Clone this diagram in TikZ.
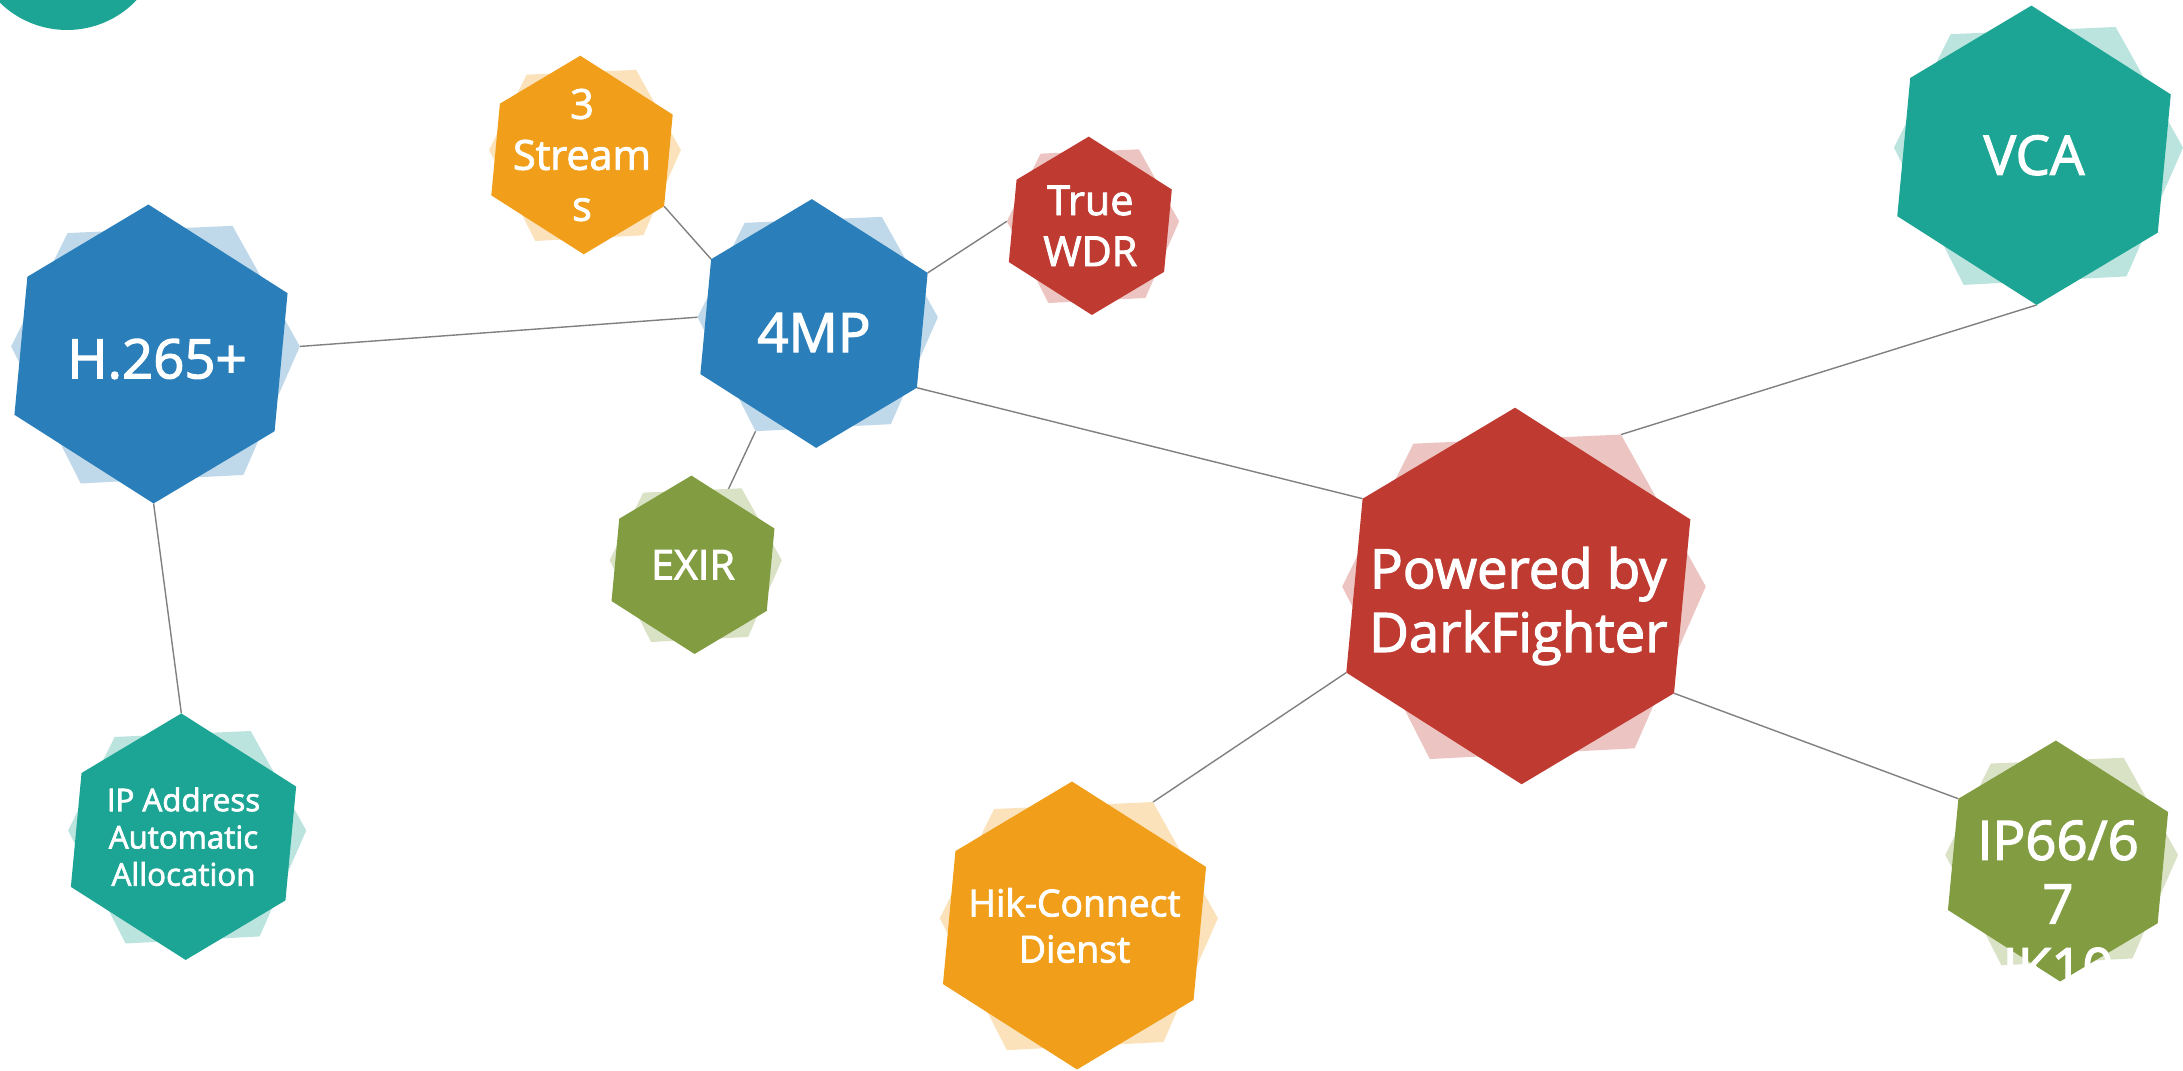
\documentclass[tikz,border=0pt]{standalone}
\usepackage{fontspec}
\setmainfont{Open Sans}[FakeBold=2.2]
\usepackage{xcolor}
\usepackage{tikz}
\usetikzlibrary{positioning}

\definecolor{hexblue}{HTML}{2A7FBA}
\definecolor{hexred}{HTML}{BF3A30}
\definecolor{hexorange}{HTML}{F19E1A}
\definecolor{hexteal}{HTML}{1CA594}
\definecolor{hexgreen}{HTML}{829D41}

\pgfdeclarelayer{bg}
\pgfsetlayers{bg,main}

\tikzset{
  hextext/.style={text=white, align=center, inner sep=0pt},
  bigtext/.style={font=\fontsize{15.5}{18.1}\selectfont},
  midtext/.style={font=\fontsize{11.75}{14.5}\selectfont},
  smalltext/.style={font=\fontsize{10.6}{13.1}\selectfont},
  tinytext/.style={font=\fontsize{8.9}{10.6}\selectfont},
  link/.style={draw=black!50, line width=0.4pt}
}

% light hexagon behind, coloured hexagon in front, label on top
\newcommand{\hexnode}[6][]{%
  \begin{scope}[shift={(#3)}, scale=#4]
    \fill[#5!30, shift={(0.03,0)}] (126:1) coordinate (#2-b1) -- (59:1) coordinate (#2-b2)
      -- (3:0.967) coordinate (#2-b3) -- (-54:1) coordinate (#2-b4)
      -- (-120:1) coordinate (#2-b5) -- (177:0.967) coordinate (#2-b6) -- cycle;
    \fill[#5] (91:1) coordinate (#2-1) -- (24:1) coordinate (#2-2)
      -- (-32:0.975) coordinate (#2-3) -- (-89:1) coordinate (#2-4)
      -- (-156:1) coordinate (#2-5) -- (148:0.975) coordinate (#2-6) -- cycle;
  \end{scope}
  \node[hextext, #1] (#2) at (#3) {#6};
}

\begin{document}
\begin{tikzpicture}[x=0.01cm, y=0.01cm]
\useasboundingbox (0,0) rectangle (2183,-1071);
\clip (0,0) rectangle (2183,-1071);

\fill[hexteal] (67,66) circle (96);

\hexnode[bigtext, xshift=0.06cm, yshift=-0.05cm]{h265}{151,-354}{149.5}{hexblue}{H.265+}
\hexnode[bigtext, yshift=-0.09cm]{mp4}{814,-323.5}{124.4}{hexblue}{4MP}
\hexnode[midtext]{streams}{582,-155}{99.3}{hexorange}{3\\Stream\\s}
\hexnode[midtext]{wdr}{1090.3,-225.8}{89.2}{hexred}{True\\WDR}
\hexnode[midtext]{exir}{693,-564.8}{89.2}{hexgreen}{EXIR}
\hexnode[tinytext]{ipaddr}{183.5,-836.7}{123.3}{hexteal}{IP Address\\Automatic\\Allocation}
\hexnode[smalltext]{hik}{1074.5,-925.5}{144}{hexorange}{Hik-Connect\\Dienst}
\hexnode[bigtext, yshift=-0.1cm]{dark}{1518.3,-596}{188.3}{hexred}{Powered by\\DarkFighter}
\hexnode[bigtext]{vca}{2034,-155.3}{149.7}{hexteal}{VCA}
\hexnode[bigtext, yshift=-0.43cm]{ip66}{2058,-861}{120.5}{hexgreen}{IP66/6\\7\\IK10}

\begin{pgfonlayer}{bg}
\draw[link] (streams-3) -- (mp4-6);
\draw[link] (mp4-2) -- (wdr-b6);
\draw[link] (h265-b3) -- (mp4-b6);
\draw[link] (mp4-b5) -- (exir.center);
\draw[link] (h265-4) -- (ipaddr-1);
\draw[link] (mp4-3) -- (dark-6);
\draw[link] (dark-b2) -- (vca-4);
\draw[link] (dark-5) -- (hik-b2);
\draw[link] (dark-3) -- (ip66-6);
\end{pgfonlayer}
\end{tikzpicture}
\end{document}
